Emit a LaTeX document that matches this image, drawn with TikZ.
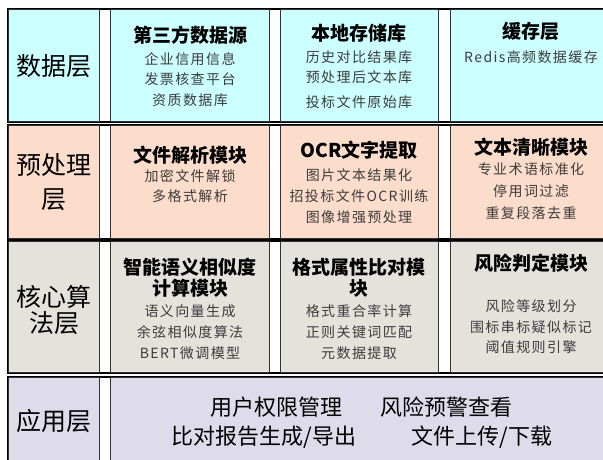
\documentclass[tikz,border=0pt]{standalone}
\usepackage{fontspec}
\setmainfont{Noto Sans CJK SC}
\newfontfamily\subfont{Noto Sans CJK SC}[LetterSpace=10]
\definecolor{cyanbg}{HTML}{CCFFFF}
\definecolor{peachbg}{HTML}{FCDCCA}
\definecolor{greybg}{HTML}{E4E2DB}
\definecolor{lavbg}{HTML}{DEDCEB}
\definecolor{subgray}{HTML}{3C3C3C}
\tikzset{
  x=1pt, y=-1pt,
  frame/.style={draw=black, line width=1.4pt, fill=white},
  cell/.style={draw=black!80, line width=0.8pt},
  lbl/.style={font=\fontsize{25}{30}\selectfont, text=black, align=center},
  ttl/.style={font=\bfseries\fontsize{19}{22}\selectfont, text=black, inner sep=0pt},
  sub/.style={font=\subfont\fontsize{14}{17}\selectfont, text=subgray, inner sep=0pt},
  app/.style={font=\fontsize{22}{25}\selectfont, text=black, inner sep=0pt}
}
\begin{document}
\begin{tikzpicture}
\useasboundingbox (0,0) rectangle (603,459);
% ---------- row 1 : data layer
\draw[frame] (8,9) rectangle (640,122);
\foreach \a/\b in {8/99,110/269,280/438,450/640}
  \draw[cell, fill=cyanbg] (\a,9.7) rectangle (\b,121.3);
\node[lbl] (l1) at (54,66) {数据层};
\node[ttl] (t11) at (190,35) {第三方数据源};
\node[sub] (s111) at (190,59) {企业信用信息};
\node[sub] (s112) at (190,79) {发票核查平台};
\node[sub] (s113) at (190,100) {资质数据库};
\node[ttl] (t12) at (359,33) {本地存储库};
\node[sub] (s121) at (359,57) {历史对比结果库};
\node[sub] (s122) at (359,77) {预处理后文本库};
\node[sub] (s123) at (359,102) {投标文件原始库};
\node[ttl] (t13) at (531,31) {缓存层};
\node[sub] (s131) at (531,57) {Redis高频数据缓存};
% ---------- row 2 : preprocessing
\draw[frame] (8,125) rectangle (640,239);
\foreach \a/\b in {8/99,110/269,280/438,450/640}
  \draw[cell, fill=peachbg] (\a,125.7) rectangle (\b,238.3);
\node[lbl] (l2a) at (54,165) {预处理};
\node[lbl] (l2b) at (54,200) {层};
\node[ttl] (t21) at (190,155) {文件解析模块};
\node[sub] (s211) at (190,176) {加密文件解锁};
\node[sub] (s212) at (190,196) {多格式解析};
\node[ttl] (t22) at (359,150) {OCR文字提取};
\node[sub] (s221) at (359,175) {图片文本结果化};
\node[sub] (s222) at (359,196) {招投标文件OCR训练};
\node[sub] (s223) at (359,217) {图像增强预处理};
\node[ttl] (t23) at (531,147) {文本清晰模块};
\node[sub] (s231) at (531,169) {专业术语标准化};
\node[sub] (s232) at (531,191) {停用词过滤};
\node[sub] (s233) at (531,213) {重复段落去重};
% ---------- row 3 : core algorithms
\draw[frame] (8,241) rectangle (640,373);
\foreach \a/\b in {8/99,110/269,280/438,450/640}
  \draw[cell, fill=greybg] (\a,241.7) rectangle (\b,372.3);
\node[lbl] (l3a) at (54,297) {核心算};
\node[lbl] (l3b) at (54,323) {法层};
\node[ttl] (t31a) at (190,267) {智能语义相似度};
\node[ttl] (t31b) at (190,288) {计算模块};
\node[sub] (s311) at (190,311) {语义向量生成};
\node[sub] (s312) at (190,332) {余弦相似度算法};
\node[sub] (s313) at (190,353) {BERT微调模型};
\node[ttl] (t32a) at (359,267) {格式属性比对模};
\node[ttl] (t32b) at (359,288) {块};
\node[sub] (s321) at (359,311) {格式重合率计算};
\node[sub] (s322) at (359,332) {正则关键词匹配};
\node[sub] (s323) at (359,353) {元数据提取};
\node[ttl] (t33) at (531,263) {风险判定模块};
\node[sub] (s331) at (531,306) {风险等级划分};
\node[sub] (s332) at (531,327) {围标串标疑似标记};
\node[sub] (s333) at (531,347) {阈值规则引擎};
% ---------- row 4 : application
\draw[frame] (8,377) rectangle (640,480);
\draw[cell, fill=lavbg] (8,377.7) rectangle (99,480);
\draw[cell, fill=lavbg] (110,377.7) rectangle (640,480);
\node[lbl] (l4) at (54,421) {应用层};
\node[app] (a1) at (276,407) {用户权限管理};
\node[app] (a2) at (446,407) {风险预警查看};
\node[app] (a3) at (264,437) {比对报告生成/导出};
\node[app] (a4) at (482,437) {文件上传/下载};
\end{tikzpicture}
\end{document}
